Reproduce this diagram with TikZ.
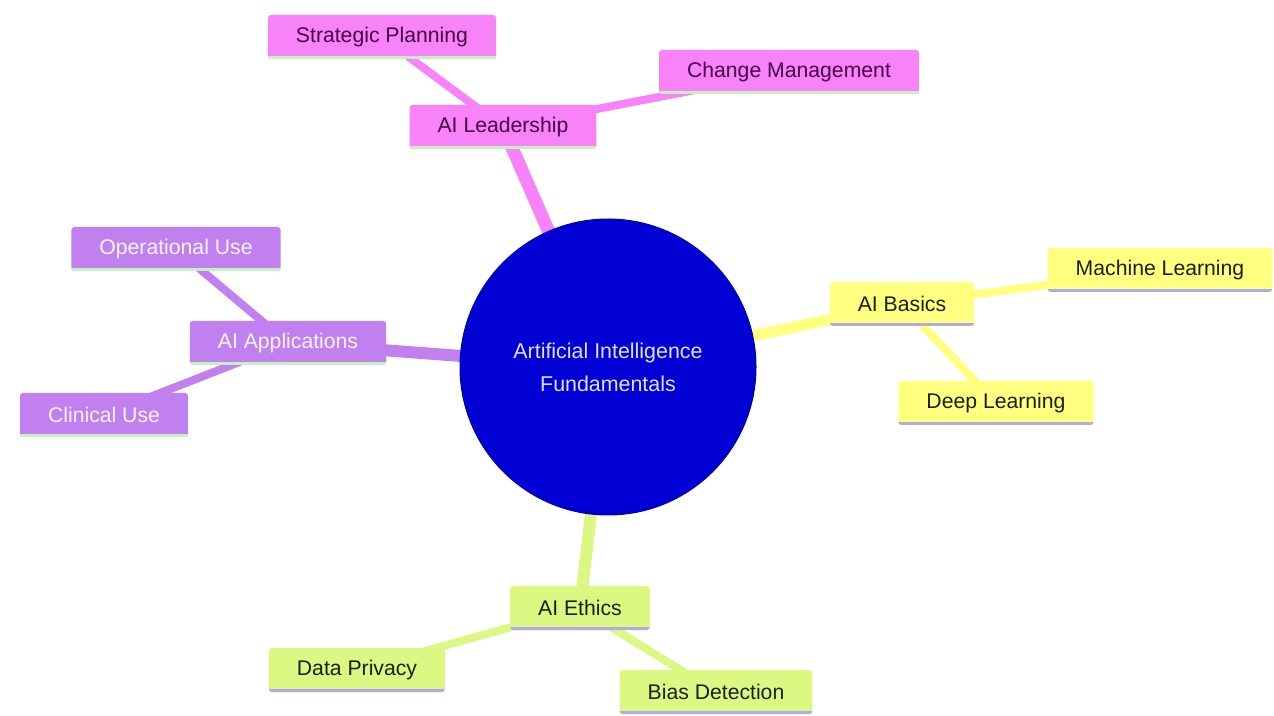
\documentclass[tikz,border=0pt]{standalone}
\usepackage{fontspec}
\setmainfont{Liberation Sans}
\usetikzlibrary{backgrounds}

\definecolor{pinkfill}{RGB}{248,130,248}
\definecolor{violetfill}{RGB}{192,128,240}
\definecolor{yellowfill}{RGB}{255,255,128}
\definecolor{limefill}{RGB}{218,248,130}
\definecolor{rootblue}{RGB}{0,0,212}
\definecolor{mintline}{RGB}{200,240,190}
\definecolor{lavline}{RGB}{176,170,230}
\definecolor{pinktext}{RGB}{70,0,70}
\definecolor{violettext}{RGB}{248,244,255}
\definecolor{darktext}{RGB}{30,30,20}

\tikzset{
  box/.style={rectangle, rounded corners=1.5pt, inner xsep=14pt, inner ysep=0pt,
              minimum height=22pt, font=\fontsize{10.6}{12.7}\selectfont,
              path picture={\draw[line width=3pt,draw=#1]
                (path picture bounding box.south west) -- (path picture bounding box.south east);}},
  rootnode/.style={circle, fill=rootblue, draw=rootblue!80!black, line width=0.5pt,
                   minimum size=148pt, inner sep=0pt, align=center, text=white!88!blue,
                   font=\fontsize{10.7}{16.5}\selectfont}
}

\begin{document}
\begin{tikzpicture}[x=0.5pt,y=-0.5pt]
\useasboundingbox (0,0) rectangle (1274,716);

\node[rootnode] (root) at (608,367) {Artificial Intelligence\\Fundamentals};

\begin{scope}[every node/.style={box=mintline, fill=pinkfill, text=pinktext}]
    \node (lead)   at (503,127) {AI Leadership};
    \node (strat)  at (382,37)  {Strategic Planning};
    \node (change) at (789,72)  {Change Management};
\end{scope}

\begin{scope}[every node/.style={box=lavline, fill=yellowfill, text=darktext}]
    \node (basics) at (902,304)  {AI Basics};
    \node (ml)     at (1160,270) {Machine Learning};
    \node (dl)     at (996,403)  {Deep Learning};
\end{scope}

\begin{scope}[every node/.style={box=mintline, fill=violetfill, text=violettext}]
    \node (apps) at (288,343) {AI Applications};
    \node (ops)  at (176,249) {Operational Use};
    \node (clin) at (104,415) {Clinical Use};
\end{scope}

\begin{scope}[every node/.style={box=lavline, fill=limefill, text=darktext}]
    \node (ethics) at (580,608) {AI Ethics};
    \node (priv)   at (357,670) {Data Privacy};
    \node (bias)   at (716,692) {Bias Detection};
\end{scope}

\begin{scope}[on background layer, every edge/.style={draw, line width=4pt}]
    \path (root.center) edge[pinkfill, line width=6.5pt]   (lead.center);
    \path (root.center) edge[yellowfill, line width=5.5pt] (basics.center);
    \path (root.center) edge[violetfill, line width=6pt]   (apps.center);
    \path (root.center) edge[limefill, line width=6pt]     (ethics.center);
    \path (lead.center)   edge[pinkfill]   (strat.center)  edge[pinkfill]   (change.center);
    \path (basics.center) edge[yellowfill] (ml.center)     edge[yellowfill] (dl.center);
    \path (apps.center)   edge[violetfill] (ops.center)    edge[violetfill] (clin.center);
    \path (ethics.center) edge[limefill]   (priv.center)   edge[limefill]   (bias.center);
\end{scope}
\end{tikzpicture}
\end{document}
